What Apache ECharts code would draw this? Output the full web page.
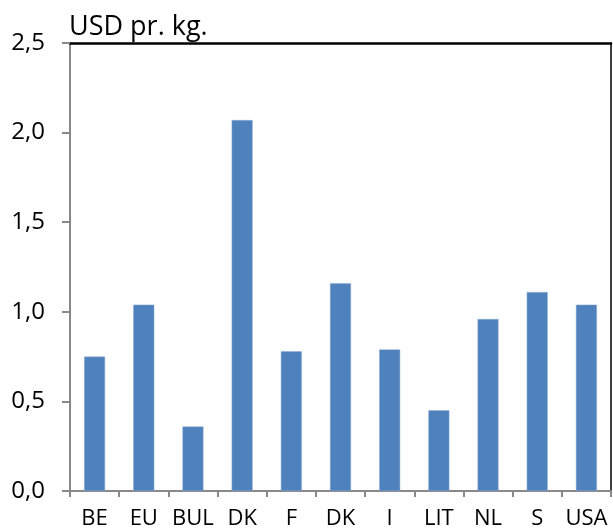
<!DOCTYPE html>
<html>
<head>
<meta charset="utf-8">
<script src="https://cdn.jsdelivr.net/npm/echarts@6/dist/echarts.min.js"></script>
<style>
  html, body { margin: 0; padding: 0; background: #fff; }
  #chart { width: 613px; height: 530px; }
</style>
</head>
<body>
<div id="chart"></div>
<script>
// data
const categories = ['BE', 'EU', 'BUL', 'DK', 'F', 'DK', 'I', 'LIT', 'NL', 'S', 'USA']
const prices = [0.75, 1.04, 0.36, 2.07, 0.78, 1.16, 0.79, 0.45, 0.96, 1.11, 1.04]
const unitLabel = 'USD pr. kg.'

const chart = echarts.init(document.getElementById('chart'))
const font = '"Open Sans", "Noto Sans", sans-serif'

const option = {
  animation: false,
  textStyle: { fontFamily: font },
  grid: { left: 70, right: 2, top: 43, bottom: 39 },
  title: {
    text: unitLabel,
    left: 69,
    top: 14,
    padding: 0,
    textStyle: { fontFamily: font, fontSize: 27, fontWeight: 'normal', color: '#000' }
  },
  xAxis: [
    {
      type: 'category',
      data: categories,
      axisLine: { lineStyle: { color: '#898989', width: 2 } },
      axisTick: { show: true, length: 6, lineStyle: { color: '#898989', width: 2 } },
      axisLabel: { color: '#000', fontSize: 22, margin: 17, interval: 0 }
    },
    {
      // top frame line
      type: 'category',
      position: 'top',
      data: categories,
      axisLine: { onZero: false, lineStyle: { color: '#000', width: 2.5 } },
      axisTick: { show: false },
      axisLabel: { show: false }
    }
  ],
  yAxis: [
    {
      type: 'value',
      min: 0,
      max: 2.5,
      interval: 0.5,
      axisLine: { show: true, lineStyle: { color: '#898989', width: 2 } },
      axisTick: { show: true, length: 8, lineStyle: { color: '#898989', width: 2 } },
      splitLine: { show: false },
      axisLabel: {
        color: '#000',
        fontSize: 24,
        margin: 25,
        formatter: v => v.toFixed(1).replace('.', ',')
      }
    },
    {
      // right frame line
      type: 'value',
      position: 'right',
      min: 0,
      max: 2.5,
      interval: 0.5,
      axisLine: { show: true, onZero: false, lineStyle: { color: '#000', width: 1.5 } },
      axisTick: { show: false },
      axisLabel: { show: false },
      splitLine: { show: false }
    }
  ],
  series: [
    {
      type: 'bar',
      data: prices,
      barWidth: 21,
      itemStyle: { color: '#4f81bd', borderColor: '#8eaed6', borderWidth: 0.5 }
    }
  ]
}

chart.setOption(option)
</script>
</body>
</html>
